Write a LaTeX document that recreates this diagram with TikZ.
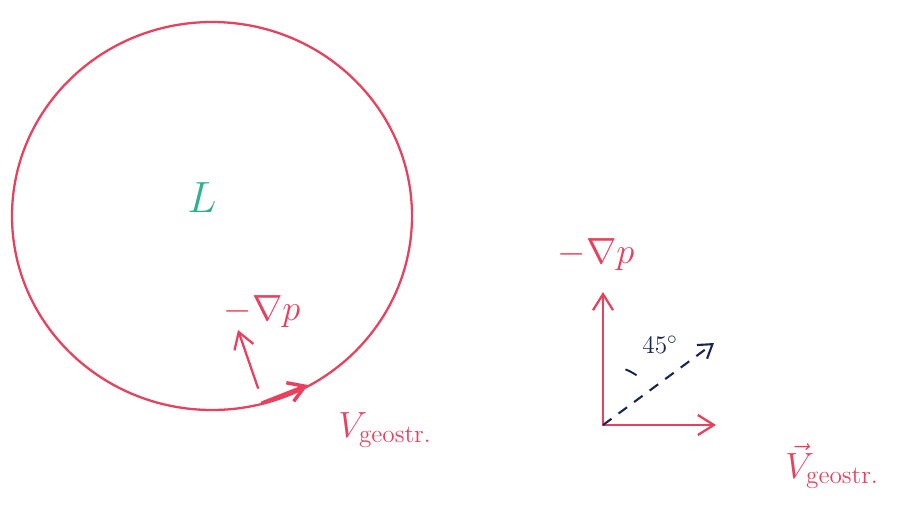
\documentclass[tikz,border=0pt]{standalone}
\usepackage{amsmath,amssymb}
\usepackage{xcolor}
\usetikzlibrary{positioning,arrows.meta}
\definecolor{pen}{HTML}{E8415E}
\definecolor{lowc}{HTML}{2BB38C}
\definecolor{ink}{HTML}{1C2452}
\tikzset{
  penline/.style  = {draw=pen, line width=1.3pt, line cap=round},
  penarrow/.style = {penline, -{Straight Barb[length=3.2mm, width=4mm]}},
  inkarrow/.style = {draw=ink, line width=1.2pt, dashed, dash pattern=on 6pt off 5pt,
                     -{Straight Barb[length=2.6mm, width=3.4mm]}},
  lbl/.style      = {text=pen, inner sep=1pt, font=\fontsize{20}{20}\selectfont},
  anglbl/.style   = {text=ink, inner sep=1pt, font=\fontsize{15}{15}\selectfont},
}

\begin{document}
\begin{tikzpicture}[x=0.02cm, y=-0.02cm]
  \useasboundingbox (0,0) rectangle (911,508);

  % low pressure cell
  \coordinate (c) at (212,216);
  \draw[penline] (c) ellipse [x radius=200, y radius=194];
  \node[text=lowc, font=\fontsize{30}{30}\selectfont] (low) at (202,198) {$L$};

  % wind on the circle
  \coordinate (gs) at (258,388);
  \coordinate (ge) at (238,330);
  \coordinate (vs) at (262,403);
  \coordinate (ve) at (308,385);
  \draw[penarrow] (gs) -- (ge);
  \draw[penarrow, line width=2pt] (vs) -- (ve);
  \node[lbl] (gradl) at (262,312) {$-\nabla p$};
  \node[lbl] (vgl) at (385,430) {$V_{\mathrm{geostr.}}$};

  % force balance sketch
  \coordinate (o)  at (603,425);
  \coordinate (up) at (603,292);
  \coordinate (rt) at (716,425);
  \coordinate (dd) at (714,343);
  \draw[penarrow] (o) -- (up);
  \draw[penarrow] (o) -- (rt);
  \draw[inkarrow] (o) -- (dd);
  \draw[draw=ink, line width=1.1pt] (o) ++(-68:60) arc[start angle=-68, end angle=-56, radius=60];
  \node[lbl] (gradr) at (596,255) {$-\nabla p$};
  \node[anglbl] (ang) at (660,345) {$45^{\circ}$};
  \node[lbl] (vgr) at (832,466) {$\vec{V}_{\mathrm{geostr.}}$};
\end{tikzpicture}
\end{document}
